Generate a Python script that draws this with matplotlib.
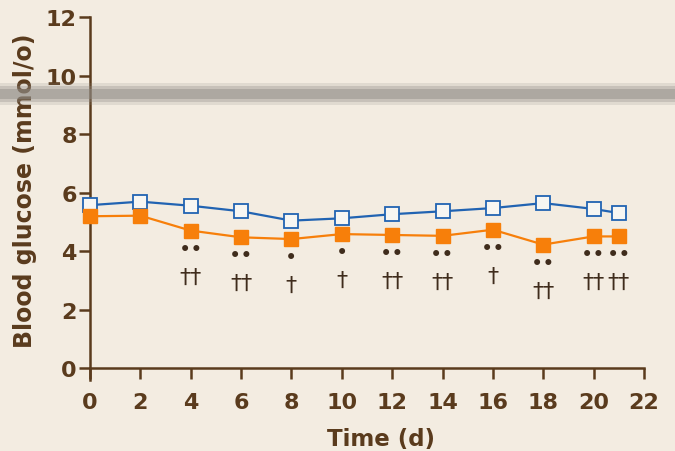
import matplotlib
matplotlib.use("Agg")
import matplotlib.pyplot as plt
from matplotlib.patches import Rectangle

# data
days = [0, 2, 4, 6, 8, 10, 12, 14, 16, 18, 20, 21]
control = [5.57, 5.69, 5.55, 5.36, 5.04, 5.12, 5.26, 5.36, 5.47, 5.64, 5.44, 5.30]
treated = [5.19, 5.21, 4.70, 4.47, 4.41, 4.58, 4.55, 4.52, 4.73, 4.22, 4.50, 4.50]
dots = ["", "", "••", "••", "•", "•", "••", "••", "••", "••", "••", "••"]
daggers = ["", "", "††", "††", "†", "†", "††", "††", "†", "††", "††", "††"]
xticks = list(range(0, 23, 2))
yticks = list(range(0, 13, 2))

brown = "#5a3b1d"
dark = "#3f2c1c"
blue = "#2163b2"
orange = "#f77f0a"

plt.rcParams['font.family'] = ['DejaVu Sans']

fig = plt.figure(figsize=(6.75, 4.52), dpi=100)
fig.patch.set_facecolor("#f3ece1")

# grey stripe across the background
for h, a in [(0.05, 0.18), (0.036, 0.3), (0.022, 0.45)]:
    fig.patches.append(Rectangle((0, 0.79 - h / 2), 1, h, transform=fig.transFigure,
                                 color="#8f8a84", alpha=a, zorder=0, lw=0))

ax = fig.add_axes([0.1333, 0.1578, 0.8207, 0.802])
ax.set_facecolor("none")

ax.plot(days, control, color=blue, lw=1.6, marker="s", ms=10, mfc="#f7f6f2",
        mec=blue, mew=1.3, clip_on=False, zorder=3)
ax.plot(days, treated, color=orange, lw=1.6, marker="s", ms=10, mfc=orange,
        mec=orange, clip_on=False, zorder=3)

for x, y, d, g in zip(days, treated, dots, daggers):
    if d:
        ax.annotate(d, (x, y), xytext=(0, -13), textcoords="offset points",
                    ha="center", va="center", fontsize=15, color=dark)
    if g:
        ax.annotate(g, (x, y), xytext=(0, -33), textcoords="offset points",
                    ha="center", va="center", fontsize=16, color=dark)

ax.set_xlim(0, 22)
ax.set_ylim(-0.4, 12)
ax.set_xticks(xticks)
ax.set_yticks(yticks)

for s in ["top", "right"]:
    ax.spines[s].set_visible(False)
ax.spines["bottom"].set_position(("data", 0))
for s in ["left", "bottom"]:
    ax.spines[s].set_color(brown)
    ax.spines[s].set_linewidth(1.8)
ax.tick_params(colors=brown, width=1.8, length=8, labelsize=16)
ax.tick_params(axis="x", pad=9)
ax.tick_params(axis="y", pad=1.5)
for lab in ax.get_xticklabels() + ax.get_yticklabels():
    lab.set_fontweight("bold")

ax.set_xlabel("Time (d)", fontsize=16.5, color=brown, fontweight="bold", va="center")
ax.set_ylabel("Blood glucose (mmol/o)", fontsize=17, color=brown, fontweight="bold",
              va="center")
ax.xaxis.set_label_coords(0.525, -0.161)
ax.yaxis.set_label_coords(-0.117, 0.523)

fig.savefig("out.png", dpi=100)
